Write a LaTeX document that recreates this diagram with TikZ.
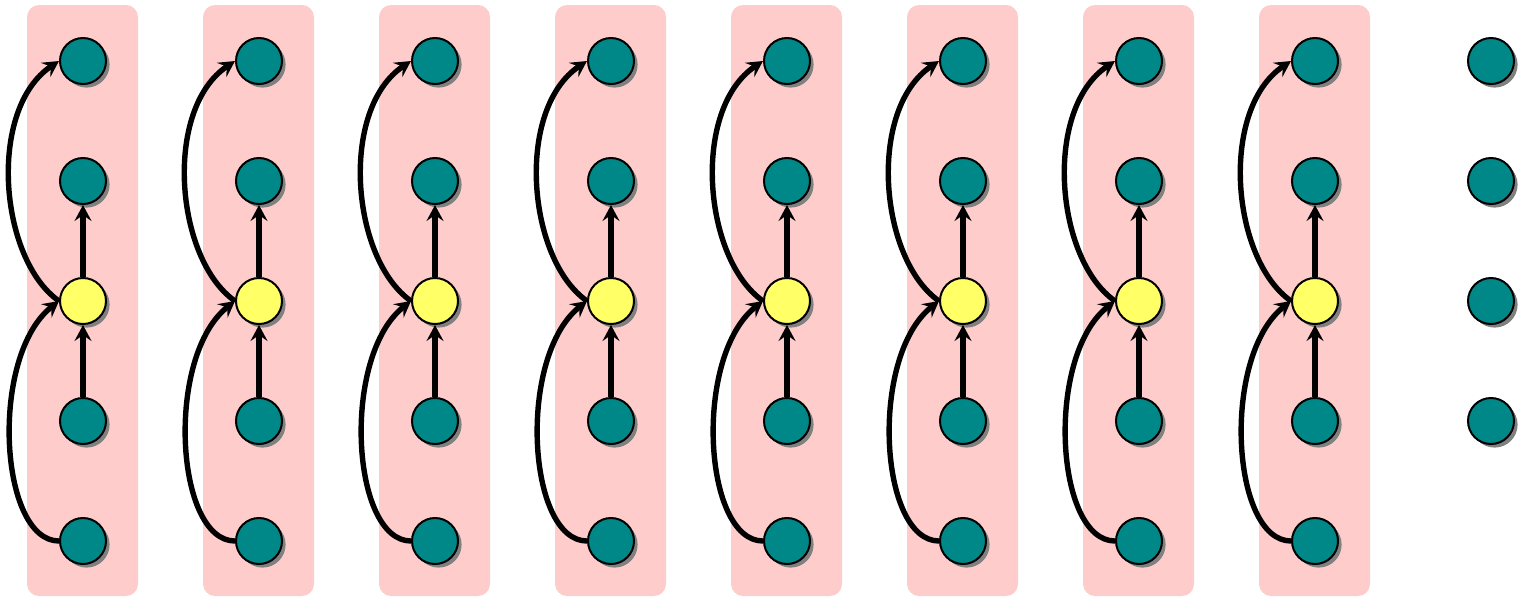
\documentclass[tikz,border=0pt]{standalone}
\usetikzlibrary{arrows.meta,shadows}
\definecolor{nodeteal}{RGB}{0,136,136}
\definecolor{nodeyellow}{RGB}{255,255,102}
\definecolor{boxpink}{RGB}{255,204,204}
\definecolor{shadowgray}{RGB}{128,128,128}
\tikzset{
  basenode/.style={circle, draw=black, line width=1pt, inner sep=0pt, minimum size=23pt,
    drop shadow={shadow xshift=1.8pt, shadow yshift=-1.8pt, fill=shadowgray, opacity=1}},
  tealnode/.style={basenode, fill=nodeteal},
  yellownode/.style={basenode, fill=nodeyellow},
  conn/.style={line width=2.7pt, -{Stealth[length=8pt, width=8.5pt, inset=3pt]}},
  colbox/.style={fill=boxpink, rounded corners=6pt}
}
\begin{document}
\begin{tikzpicture}[x=0.5pt, y=-0.5pt]
\useasboundingbox (0,0) rectangle (1520,596);
\foreach \i in {0,...,7}{
  \pgfmathsetmacro\cx{83+176*\i}
  \path[colbox] (\cx-56,5) rectangle (\cx+55,596);
  \node[tealnode] (a\i) at (\cx,61) {};
  \node[tealnode] (b\i) at (\cx,181) {};
  \node[yellownode] (c\i) at (\cx,301) {};
  \node[tealnode] (d\i) at (\cx,421) {};
  \node[tealnode] (e\i) at (\cx,541) {};
  \draw[conn] (e\i.west) .. controls +(-60,0) and +(-70,55) .. (c\i.west);
  \draw[conn] (c\i.west) .. controls +(-60,-42) and +(-72,48) .. (a\i.west);
  \draw[conn] (d\i) -- (c\i);
  \draw[conn] (c\i) -- (b\i);
}
\node[tealnode] (f1) at (1491,61) {};
\node[tealnode] (f2) at (1491,181) {};
\node[tealnode] (f3) at (1491,301) {};
\node[tealnode] (f4) at (1491,421) {};
\end{tikzpicture}
\end{document}
